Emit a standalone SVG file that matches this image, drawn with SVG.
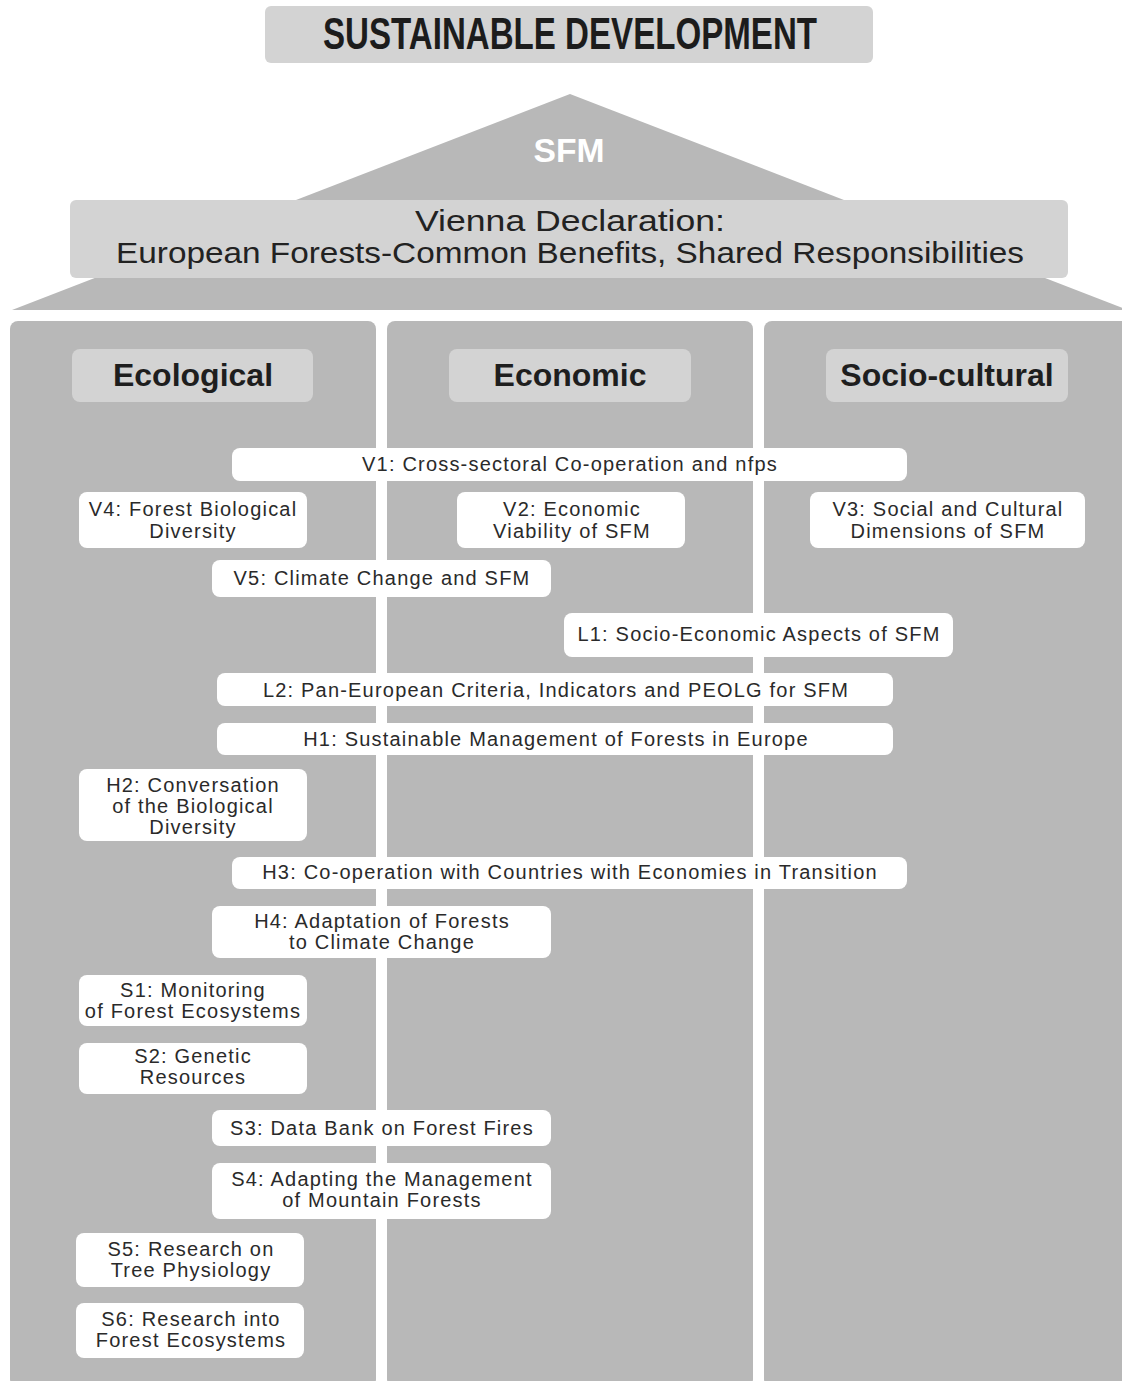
<svg xmlns="http://www.w3.org/2000/svg" width="1122" height="1381" viewBox="0 0 1122 1381">
<defs>
<style>
.lt{fill:#d3d3d3}
.md{fill:#b8b8b8}
.box{fill:#ffffff}
.t{font-family:"Liberation Sans",Arial,sans-serif;font-size:20px;letter-spacing:1.2px;fill:#2a2a2a;text-anchor:middle}
.hd{font-family:"Liberation Sans",Arial,sans-serif;font-size:32px;font-weight:bold;fill:#1e1e1e;text-anchor:middle}
.vd{font-family:"Liberation Sans",Arial,sans-serif;font-size:29px;fill:#222;text-anchor:middle}
</style>
</defs>
<rect width="1122" height="1381" fill="#ffffff"/>
<g id="title">
<rect class="lt" x="265" y="6" width="608" height="57" rx="6"/>
<text x="570" y="49" font-family="Liberation Sans,Arial,sans-serif" font-weight="bold" font-size="44" fill="#1c1c1c" text-anchor="middle" textLength="494" lengthAdjust="spacingAndGlyphs">SUSTAINABLE DEVELOPMENT</text>
</g>
<g id="roof">
<polygon class="md" points="570,94 12,310 1128,310"/>
<text x="569" y="162" font-family="Liberation Sans,Arial,sans-serif" font-weight="bold" font-size="33" fill="#ffffff" text-anchor="middle" textLength="71" lengthAdjust="spacingAndGlyphs">SFM</text>
</g>
<g id="vienna">
<rect class="lt" x="70" y="200" width="998" height="78" rx="6"/>
<text class="vd" x="570" y="231" textLength="310" lengthAdjust="spacingAndGlyphs">Vienna Declaration:</text>
<text class="vd" x="570" y="263" textLength="908" lengthAdjust="spacingAndGlyphs">European Forests-Common Benefits, Shared Responsibilities</text>
</g>
<g id="pillar-ecological">
<rect class="md" x="10" y="321" width="366" height="1066" rx="8"/>
<rect class="lt" x="72" y="349" width="241" height="53" rx="8"/>
<text class="hd" x="193" y="386">Ecological</text>
</g>
<g id="pillar-economic">
<rect class="md" x="387" y="321" width="366" height="1066" rx="8"/>
<rect class="lt" x="449" y="349" width="242" height="53" rx="8"/>
<text class="hd" x="570" y="386">Economic</text>
</g>
<g id="pillar-sociocultural">
<rect class="md" x="764" y="321" width="370" height="1066" rx="8"/>
<rect class="lt" x="826" y="349" width="242" height="53" rx="8"/>
<text class="hd" x="947" y="386">Socio-cultural</text>
</g>
<g id="connectors"/>
<g id="V1"><rect class="box" x="232" y="448" width="675" height="33" rx="8"/><text class="t" x="570" y="471">V1: Cross-sectoral Co-operation and nfps</text></g>
<g id="V4"><rect class="box" x="79" y="492" width="228" height="56" rx="8"/><text class="t" x="193" y="516">V4: Forest Biological</text><text class="t" x="193" y="538">Diversity</text></g>
<g id="V2"><rect class="box" x="457" y="492" width="228" height="56" rx="8"/><text class="t" x="572" y="516">V2: Economic</text><text class="t" x="572" y="538">Viability of SFM</text></g>
<g id="V3"><rect class="box" x="810" y="492" width="275" height="56" rx="8"/><text class="t" x="948" y="516">V3: Social and Cultural</text><text class="t" x="948" y="538">Dimensions of SFM</text></g>
<g id="V5"><rect class="box" x="212" y="560" width="339" height="37" rx="8"/><text class="t" x="382" y="585">V5: Climate Change and SFM</text></g>
<g id="L1"><rect class="box" x="564" y="613" width="389" height="44" rx="8"/><text class="t" x="759" y="641">L1: Socio-Economic Aspects of SFM</text></g>
<g id="L2"><rect class="box" x="217" y="673" width="676" height="33" rx="8"/><text class="t" x="556" y="697">L2: Pan-European Criteria, Indicators and PEOLG for SFM</text></g>
<g id="H1"><rect class="box" x="217" y="723" width="676" height="32" rx="8"/><text class="t" x="556" y="746">H1: Sustainable Management of Forests in Europe</text></g>
<g id="H2"><rect class="box" x="79" y="769" width="228" height="72" rx="8"/><text class="t" x="193" y="792">H2: Conversation</text><text class="t" x="193" y="813">of the Biological</text><text class="t" x="193" y="834">Diversity</text></g>
<g id="H3"><rect class="box" x="232" y="857" width="675" height="32" rx="8"/><text class="t" x="570" y="879">H3: Co-operation with Countries with Economies in Transition</text></g>
<g id="H4"><rect class="box" x="212" y="906" width="339" height="52" rx="8"/><text class="t" x="382" y="928">H4: Adaptation of Forests</text><text class="t" x="382" y="949">to Climate Change</text></g>
<g id="S1"><rect class="box" x="79" y="975" width="228" height="51" rx="8"/><text class="t" x="193" y="997">S1: Monitoring</text><text class="t" x="193" y="1018">of Forest Ecosystems</text></g>
<g id="S2"><rect class="box" x="79" y="1043" width="228" height="51" rx="8"/><text class="t" x="193" y="1063">S2: Genetic</text><text class="t" x="193" y="1084">Resources</text></g>
<g id="S3"><rect class="box" x="212" y="1110" width="339" height="36" rx="8"/><text class="t" x="382" y="1135">S3: Data Bank on Forest Fires</text></g>
<g id="S4"><rect class="box" x="212" y="1163" width="339" height="56" rx="8"/><text class="t" x="382" y="1186">S4: Adapting the Management</text><text class="t" x="382" y="1207">of Mountain Forests</text></g>
<g id="S5"><rect class="box" x="76" y="1233" width="228" height="54" rx="8"/><text class="t" x="191" y="1256">S5: Research on</text><text class="t" x="191" y="1277">Tree Physiology</text></g>
<g id="S6"><rect class="box" x="76" y="1303" width="228" height="55" rx="8"/><text class="t" x="191" y="1326">S6: Research into</text><text class="t" x="191" y="1347">Forest Ecosystems</text></g>
</svg>
